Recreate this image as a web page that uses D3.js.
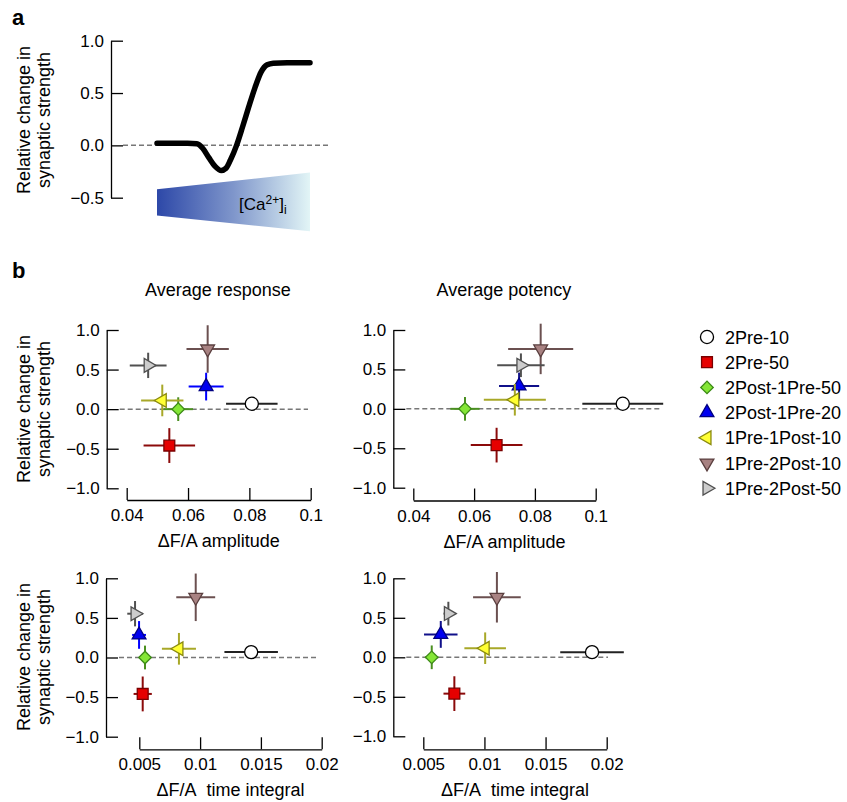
<!DOCTYPE html>
<html>
<head>
<meta charset="utf-8">
<script src="https://cdn.jsdelivr.net/npm/d3@7"></script>
<style>
  body { margin: 0; background: #fff; }
  text { font-family: "Liberation Sans", Arial, Helvetica, sans-serif; fill: #000; }
</style>
</head>
<body>
<div id="chart"></div>
<script>
var width = 847, height = 802;

// panel a: schematic curve (calcium level 0..1 vs relative change)
var caLevel = [0, 0.1, 0.2, 0.26, 0.3, 0.34, 0.38, 0.42, 0.45, 0.48, 0.52, 0.56, 0.6, 0.64, 0.68, 0.72, 0.76, 0.85, 1.0];
var caChange = [0.02, 0.02, 0.02, 0.015, -0.03, -0.12, -0.2, -0.24, -0.22, -0.14, 0.0, 0.18, 0.37, 0.55, 0.70, 0.77, 0.785, 0.79, 0.79];
var wedgeTop = [-0.42, -0.26];
var wedgeBottom = [-0.67, -0.82];
var aTicks = [-0.5, 0, 0.5, 1];
var aTickLabels = ["\u22120.5", "0.0", "0.5", "1.0"];

// panel b
var seriesNames = ["2Pre-10", "2Pre-50", "2Post-1Pre-50", "2Post-1Pre-20", "1Pre-1Post-10", "1Pre-2Post-10", "1Pre-2Post-50"];
var yTicks = [-1, -0.5, 0, 0.5, 1];
var yTickLabels = ["\u22121.0", "\u22120.5", "0.0", "0.5", "1.0"];
var ampTicks = [0.04, 0.06, 0.08, 0.1];
var ampTickLabels = ["0.04", "0.06", "0.08", "0.1"];
var intTicks = [0.005, 0.01, 0.015, 0.02];
var intTickLabels = ["0.005", "0.01", "0.015", "0.02"];

// y values: relative change in synaptic strength
var respY = [0.068, -0.46, 0.0, 0.285, 0.11, 0.76, 0.553];
var respYErr = [0.0, 0.22, 0.15, 0.175, 0.2, 0.3, 0.16];
var potY = [0.065, -0.46, 0.0, 0.29, 0.115, 0.76, 0.553];
var potYErr = [0.0, 0.22, 0.15, 0.17, 0.2, 0.32, 0.15];

// x values: dF/A amplitude
var respAmpX = [0.0808, 0.0539, 0.0568, 0.0659, 0.0516, 0.0664, 0.0470];
var respAmpXErr = [0.0084, 0.0084, 0.0048, 0.0057, 0.0069, 0.0069, 0.0060];
var potAmpX = [0.1089, 0.0674, 0.0570, 0.0748, 0.0734, 0.0819, 0.0754];
var potAmpXErr = [0.0133, 0.0085, 0.0048, 0.0066, 0.0102, 0.0107, 0.0078];
// x values: dF/A time integral
var respIntX = [0.0142, 0.00528, 0.00547, 0.00498, 0.00826, 0.00964, 0.00465];
var respIntXErr = [0.0022, 0.00075, 0.0005, 0.00057, 0.0014, 0.0016, 0.00064];
var potIntX = [0.0188, 0.00754, 0.00569, 0.00643, 0.01006, 0.01102, 0.00705];
var potIntXErr = [0.0026, 0.00089, 0.00055, 0.00137, 0.0017, 0.00195, 0.0004];

// marker styles per series
var fills = ["#ffffff", "#e60000", "#84e636", "#0000f0", "#ffff33", "#a88282", "#cccccc"];
var strokes = ["#000000", "#7a0000", "#3d8a18", "#000080", "#8a8a10", "#5a3f3f", "#505050"];
var errColors = ["#222222", "#8b0a0a", "#4a8f20", "#0000ff", "#a8a828", "#6b5050", "#505050"];
var shapes = ["circle", "square", "diamond", "up", "left", "down", "right"];

var svg = d3.select("#chart").append("svg")
    .attr("width", width)
    .attr("height", height);

function markerPath(shape) {
    if (shape == "circle") return d3.symbol(d3.symbolCircle, 135)();
    if (shape == "square") return d3.symbol(d3.symbolSquare, 118)();
    if (shape == "diamond") return d3.symbol(d3.symbolSquare, 78)();
    return d3.symbol(d3.symbolTriangle, 82)();
}
function markerRotate(shape) {
    return {circle: 0, square: 0, diamond: 45, up: 0, left: -90, down: 180, right: 90}[shape];
}

function styleAxis(g, size) {
    g.attr("font-family", null).attr("font-size", null);
    g.selectAll("text").style("font-size", size + "px").attr("fill", "#000");
    g.selectAll("path, line").attr("stroke", "#000").attr("stroke-width", 1.3);
}

function yLabel(cx, cy) {
    var t = svg.append("g").attr("transform", "translate(" + cx + "," + cy + ") rotate(-90)");
    t.append("text").attr("text-anchor", "middle").attr("y", -10).style("font-size", "18px").text("Relative change in");
    t.append("text").attr("text-anchor", "middle").attr("y", 10).style("font-size", "18px").text("synaptic strength");
}

// ---------- panel a ----------
svg.append("text").attr("x", 12).attr("y", 25).style("font-size", "22px").style("font-weight", "bold").text("a");

var aY = d3.scaleLinear().domain([-0.5, 1]).range([197.7, 40.7]);
var aX = d3.scaleLinear().domain([0, 1]).range([157, 310]);

var aAxis = svg.append("g")
    .attr("transform", "translate(111,0)")
    .call(d3.axisLeft(aY).tickValues(aTicks)
        .tickFormat(function(d) { return aTickLabels[aTicks.indexOf(d)]; })
        .tickSize(-12).tickSizeOuter(0).tickPadding(7));
styleAxis(aAxis, 17);

svg.append("line")
    .attr("x1", 123).attr("x2", 330)
    .attr("y1", aY(0)).attr("y2", aY(0))
    .attr("stroke", "#777").attr("stroke-width", 1.5).attr("stroke-dasharray", "5,3");

var grad = svg.append("defs").append("linearGradient").attr("id", "caGrad")
    .attr("x1", "0%").attr("x2", "100%").attr("y1", "0%").attr("y2", "0%");
grad.append("stop").attr("offset", "0%").attr("stop-color", "#2d48a8");
grad.append("stop").attr("offset", "50%").attr("stop-color", "#7f96cb");
grad.append("stop").attr("offset", "100%").attr("stop-color", "#e2f5f6");

var wedge = [[0, wedgeTop[0]], [1, wedgeTop[1]], [1, wedgeBottom[1]], [0, wedgeBottom[0]]];
svg.append("path")
    .attr("d", "M" + wedge.map(function(d) { return [aX(d[0]), aY(d[1])]; }).join("L") + "Z")
    .attr("fill", "url(#caGrad)");

var caText = svg.append("text").attr("x", 239).attr("y", 210).style("font-size", "17px");
caText.append("tspan").text("[Ca");
caText.append("tspan").attr("dy", -6).style("font-size", "12px").text("2+");
caText.append("tspan").attr("dy", 6).text("]");
caText.append("tspan").attr("dy", 4).style("font-size", "12px").text("i");

var aLine = d3.line()
    .x(function(d, i) { return aX(caLevel[i]); })
    .y(function(d) { return aY(d); })
    .curve(d3.curveMonotoneX);
svg.append("path")
    .attr("d", aLine(caChange))
    .attr("fill", "none").attr("stroke", "#000")
    .attr("stroke-width", 5.5).attr("stroke-linecap", "round").attr("stroke-linejoin", "round");

yLabel(40, 120);

// ---------- panel b ----------
svg.append("text").attr("x", 12).attr("y", 278).style("font-size", "22px").style("font-weight", "bold").text("b");
svg.append("text").attr("x", 218).attr("y", 296).attr("text-anchor", "middle").style("font-size", "18px").text("Average response");
svg.append("text").attr("x", 504).attr("y", 296).attr("text-anchor", "middle").style("font-size", "18px").text("Average potency");

var panels = [
    {xs: respAmpX, xe: respAmpXErr, ys: respY, ye: respYErr, ticks: ampTicks, labels: ampTickLabels,
     yAxisX: 106.7, xRange: [126.7, 310.7], yRange: [488.3, 330], xAxisY: 500, zeroEnd: 308, title: "\u0394F/A amplitude", blue: "#0000ff"},
    {xs: potAmpX, xe: potAmpXErr, ys: potY, ye: potYErr, ticks: ampTicks, labels: ampTickLabels,
     yAxisX: 393.3, xRange: [413.3, 595.7], yRange: [487.7, 330], xAxisY: 500.5, zeroEnd: 662, title: "\u0394F/A amplitude", blue: "#10108a"},
    {xs: respIntX, xe: respIntXErr, ys: respY, ye: respYErr, ticks: intTicks, labels: intTickLabels,
     yAxisX: 106, xRange: [139.3, 321.7], yRange: [736.7, 578.3], xAxisY: 749.3, zeroEnd: 317, title: "\u0394F/A\u00a0 time integral", blue: "#0000ff"},
    {xs: potIntX, xe: potIntXErr, ys: potY, ye: potYErr, ticks: intTicks, labels: intTickLabels,
     yAxisX: 393.3, xRange: [423.3, 606.7], yRange: [736.3, 578.3], xAxisY: 749.3, zeroEnd: 608, title: "\u0394F/A\u00a0 time integral", blue: "#10108a"}
];

panels.forEach(function(p) {
    var x = d3.scaleLinear().domain([p.ticks[0], p.ticks[p.ticks.length - 1]]).range(p.xRange);
    var y = d3.scaleLinear().domain([-1, 1]).range(p.yRange);
    var g = svg.append("g");

    var ya = g.append("g")
        .attr("transform", "translate(" + p.yAxisX + ",0)")
        .call(d3.axisLeft(y).tickValues(yTicks)
            .tickFormat(function(d) { return yTickLabels[yTicks.indexOf(d)]; })
            .tickSize(-12).tickSizeOuter(0).tickPadding(7));
    styleAxis(ya, 17);

    var xa = g.append("g")
        .attr("transform", "translate(0," + p.xAxisY + ")")
        .call(d3.axisBottom(x).tickValues(p.ticks)
            .tickFormat(function(d) { return p.labels[p.ticks.indexOf(d)]; })
            .tickSize(-12).tickSizeOuter(0).tickPadding(9));
    styleAxis(xa, 17);

    g.append("text")
        .attr("x", (p.xRange[0] + p.xRange[1]) / 2)
        .attr("y", p.xAxisY + 47)
        .attr("text-anchor", "middle").style("font-size", "18px")
        .text(p.title);

    g.append("line")
        .attr("x1", p.yAxisX + 13).attr("x2", p.zeroEnd)
        .attr("y1", y(0)).attr("y2", y(0))
        .attr("stroke", "#777").attr("stroke-width", 1.5).attr("stroke-dasharray", "5,3");

    seriesNames.forEach(function(name, i) {
        var col = i == 3 ? p.blue : errColors[i];
        var cx = x(p.xs[i]), cy = y(p.ys[i]);
        g.append("line")
            .attr("x1", x(p.xs[i] - p.xe[i])).attr("x2", x(p.xs[i] + p.xe[i]))
            .attr("y1", cy).attr("y2", cy)
            .attr("stroke", col).attr("stroke-width", 2);
        g.append("line")
            .attr("x1", cx).attr("x2", cx)
            .attr("y1", y(p.ys[i] - p.ye[i])).attr("y2", y(p.ys[i] + p.ye[i]))
            .attr("stroke", col).attr("stroke-width", 2);
        g.append("path")
            .attr("d", markerPath(shapes[i]))
            .attr("transform", "translate(" + cx + "," + cy + ") rotate(" + markerRotate(shapes[i]) + ")")
            .attr("fill", fills[i]).attr("stroke", strokes[i]).attr("stroke-width", 1.3);
    });
});

yLabel(40, 409);
yLabel(40, 657);

// legend
var legend = svg.append("g").attr("transform", "translate(707,337)");
seriesNames.forEach(function(name, i) {
    var row = legend.append("g").attr("transform", "translate(0," + (i * 25.2) + ")");
    row.append("path")
        .attr("d", markerPath(shapes[i]))
        .attr("transform", "rotate(" + markerRotate(shapes[i]) + ")")
        .attr("fill", fills[i]).attr("stroke", strokes[i]).attr("stroke-width", 1.3);
    row.append("text").attr("x", 18).attr("y", 6.5).style("font-size", "18px").text(name);
});
</script>
</body>
</html>
